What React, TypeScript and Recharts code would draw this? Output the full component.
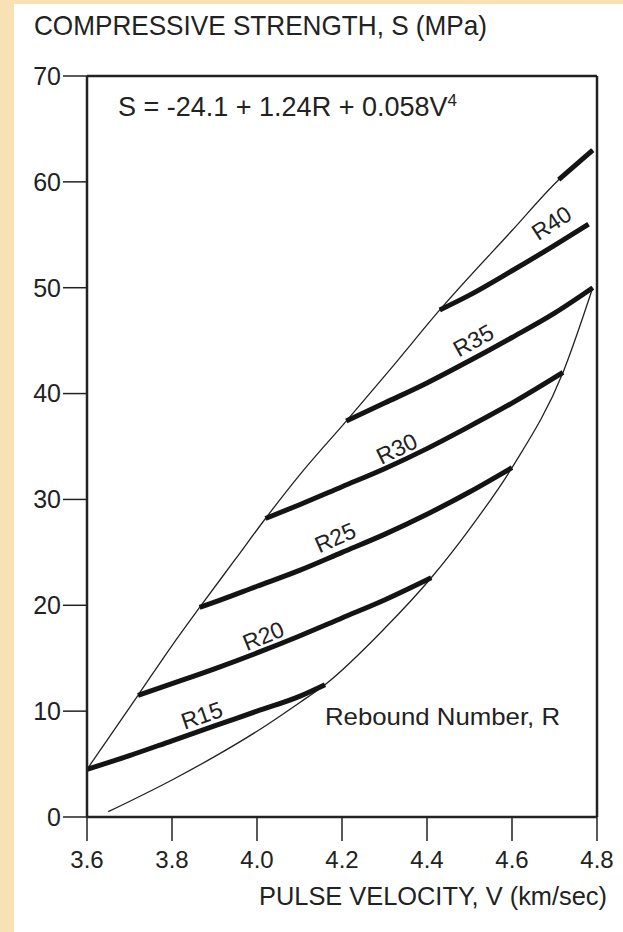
import React from 'react';
import { LineChart, Line, XAxis, YAxis, ReferenceLine, ReferenceDot } from 'recharts';

const X_TICKS = [3.6, 3.8, 4.0, 4.2, 4.4, 4.6, 4.8];
const Y_TICKS = [0, 10, 20, 30, 40, 50, 60, 70];

const upperV = [3.6, 3.72, 3.8, 3.865, 3.95, 4.02, 4.1, 4.21, 4.32, 4.43, 4.6, 4.71, 4.79];
const upperS = [4.5, 11.5, 16.2, 19.8, 24.4, 28.2, 32.3, 37.4, 42.6, 47.9, 55.4, 60.2, 63.0];

const lowerV = [3.65, 3.8, 3.9, 4.0, 4.1, 4.16, 4.3, 4.41, 4.5, 4.6, 4.72, 4.79];
const lowerS = [0.5, 3.5, 5.7, 8.1, 10.8, 12.5, 17.8, 22.6, 27.2, 33.0, 42.0, 50.0];

const r15V = [3.6, 3.7, 3.8, 3.9, 4.0, 4.1, 4.16];
const r15S = [4.5, 5.8, 7.2, 8.6, 10.0, 11.4, 12.5];
const r20V = [3.72, 3.8, 3.9, 4.0, 4.1, 4.2, 4.3, 4.41];
const r20S = [11.5, 12.6, 14.0, 15.5, 17.1, 18.8, 20.5, 22.6];
const r25V = [3.865, 3.9, 4.0, 4.1, 4.2, 4.3, 4.4, 4.5, 4.6];
const r25S = [19.8, 20.3, 21.8, 23.3, 25.0, 26.7, 28.6, 30.7, 33.0];
const r30V = [4.02, 4.1, 4.2, 4.3, 4.4, 4.5, 4.6, 4.72];
const r30S = [28.2, 29.5, 31.2, 32.9, 34.8, 36.9, 39.1, 42.0];
const r35V = [4.21, 4.3, 4.4, 4.5, 4.6, 4.7, 4.79];
const r35S = [37.4, 39.1, 41.0, 43.1, 45.3, 47.6, 50.0];
const r40V = [4.43, 4.5, 4.6, 4.7, 4.78];
const r40S = [47.9, 49.3, 51.6, 54.0, 56.0];
const r45V = [4.71, 4.79];
const r45S = [60.2, 63.0];

const labelNames = ['R15', 'R20', 'R25', 'R30', 'R35', 'R40'];
const labelV = [3.87, 4.015, 4.184, 4.329, 4.509, 4.693];
const labelS = [9.6, 17.1, 26.4, 34.8, 45.0, 56.1];
const labelAngle = [19, 22, 24, 26, 29, 33];

const pts = (vs: number[], ss: number[]) => vs.map((v, i) => ({ v, s: ss[i] }));

const thick = [
  pts(r15V, r15S),
  pts(r20V, r20S),
  pts(r25V, r25S),
  pts(r30V, r30S),
  pts(r35V, r35S),
  pts(r40V, r40S),
  pts(r45V, r45S),
];

const FONT = '"Liberation Sans", Arial, Helvetica, sans-serif';
const INK = '#222';

export default function App() {
  return (
    <div style={{ position: 'absolute', left: 0, top: 0, width: 623, height: 932, background: '#F9E1B5', overflow: 'hidden' }}>
      <div style={{ position: 'absolute', left: 14, top: 4, width: 609, height: 928, background: '#fff' }} />
      <div style={{ position: 'absolute', left: 0, top: 0 }}>
        <LineChart width={623} height={932} margin={{ top: 76, right: 26, bottom: 75, left: 27 }}>
          <XAxis
            dataKey="v"
            type="number"
            domain={[3.6, 4.8]}
            ticks={X_TICKS}
            allowDataOverflow
            tickFormatter={(v: number) => v.toFixed(1)}
            tickSize={24}
            tickMargin={10}
            height={40}
            axisLine={{ stroke: INK, strokeWidth: 2.5 }}
            tickLine={{ stroke: INK, strokeWidth: 1.5 }}
            tick={{ fill: INK, fontSize: 24, fontFamily: FONT }}
          />
          <YAxis
            type="number"
            domain={[0, 70]}
            ticks={Y_TICKS}
            allowDataOverflow
            width={60}
            tickSize={24}
            tickMargin={2}
            axisLine={{ stroke: INK, strokeWidth: 2.5 }}
            tickLine={{ stroke: INK, strokeWidth: 1.5 }}
            tick={{ fill: INK, fontSize: 25, fontFamily: FONT }}
          />
          <ReferenceLine y={70} stroke={INK} strokeWidth={2.5} />
          <ReferenceLine x={4.8} stroke={INK} strokeWidth={2.5} />
          <Line data={pts(upperV, upperS)} dataKey="s" type="monotone" dot={false} stroke={INK} strokeWidth={1.3} isAnimationActive={false} />
          <Line data={pts(lowerV, lowerS)} dataKey="s" type="monotone" dot={false} stroke={INK} strokeWidth={1.3} isAnimationActive={false} />
          {thick.map((d, i) => (
            <Line key={i} data={d} dataKey="s" type="monotone" dot={false} stroke="#141414" strokeWidth={5} isAnimationActive={false} />
          ))}
          {labelNames.map((name, i) => (
            <ReferenceDot
              key={name}
              x={labelV[i]}
              y={labelS[i]}
              r={0}
              ifOverflow="visible"
              shape={(p: any) => (
                <text
                  x={p.cx}
                  y={p.cy}
                  textAnchor="middle"
                  dominantBaseline="central"
                  fontSize={23}
                  fontFamily={FONT}
                  fill={INK}
                  transform={`rotate(${-labelAngle[i]} ${p.cx} ${p.cy})`}
                >
                  {name}
                </text>
              )}
            />
          ))}
        </LineChart>
      </div>
      <svg width={623} height={932} style={{ position: 'absolute', left: 0, top: 0, pointerEvents: 'none' }}>
        <text x={34} y={35} fontSize={28} fontFamily={FONT} fill={INK} textLength={453} lengthAdjust="spacingAndGlyphs">
          COMPRESSIVE STRENGTH, S (MPa)
        </text>
        <text x={118} y={116} fontSize={27} fontFamily={FONT} fill={INK}>
          S = -24.1 + 1.24R + 0.058V<tspan fontSize={17} dy={-10}>4</tspan>
        </text>
        <text x={325} y={725} fontSize={24} fontFamily={FONT} fill={INK} textLength={235} lengthAdjust="spacingAndGlyphs">
          Rebound Number, R
        </text>
        <text x={259} y={905} fontSize={26} fontFamily={FONT} fill={INK} textLength={348} lengthAdjust="spacingAndGlyphs">
          PULSE VELOCITY, V (km/sec)
        </text>
      </svg>
    </div>
  );
}
